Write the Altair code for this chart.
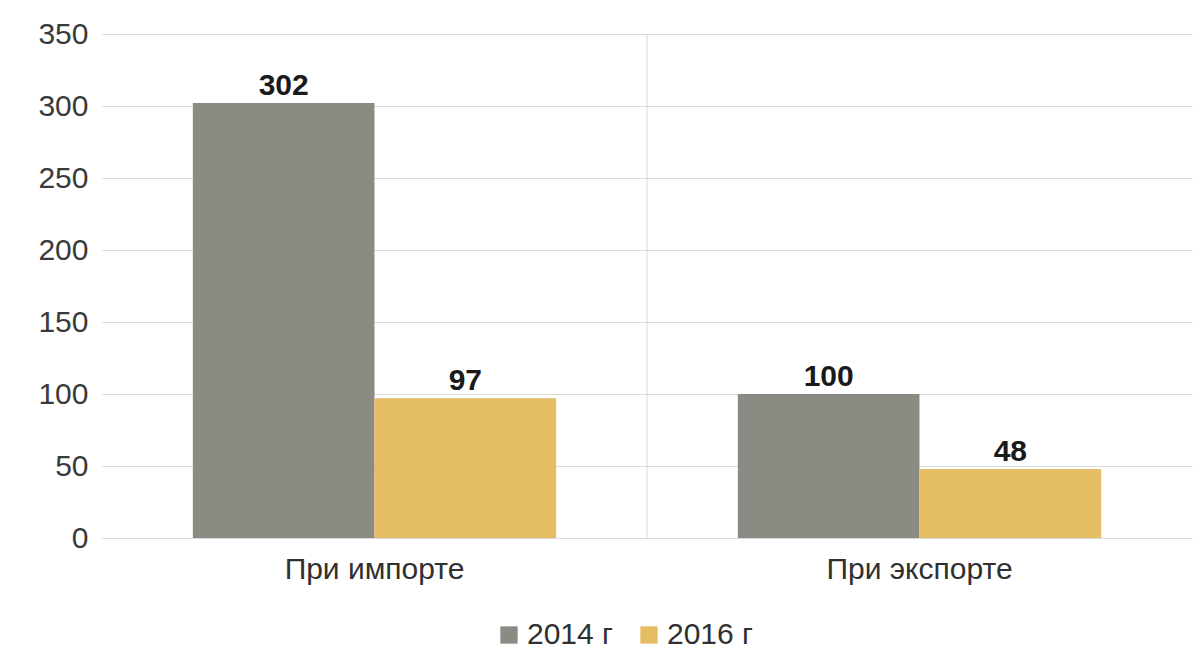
import altair as alt
import pandas as pd

categories = ["При импорте", "При экспорте"]
years = ["2014 г", "2016 г"]
values_2014 = [302, 100]
values_2016 = [97, 48]
colors = ["#8b8b84", "#e5bd65"]

rows = []
for i, c in enumerate(categories):
    rows.append({"cat": c, "year": years[0], "value": values_2014[i]})
    rows.append({"cat": c, "year": years[1], "value": values_2016[i]})
df = pd.DataFrame(rows)
sep = pd.DataFrame({"cat": [categories[1]]})

FONT = "Liberation Sans"

xenc = alt.X("cat:N", sort=categories, title=None,
             scale=alt.Scale(paddingInner=0, paddingOuter=0),
             axis=alt.Axis(labelAngle=0, labelFontSize=30, labelColor="#303030",
                           labelFont=FONT, ticks=False, domainColor="#d9d9d9",
                           labelPadding=16, grid=False, bandPosition=0.5,
                           labelLimit=500))
xoff = alt.XOffset("year:N", sort=years, scale=alt.Scale(paddingInner=0, paddingOuter=0.5))

bars = alt.Chart(df).mark_bar().encode(
    x=xenc,
    xOffset=xoff,
    y=alt.Y("value:Q", title=None,
            scale=alt.Scale(domain=[0, 350], nice=False),
            axis=alt.Axis(values=[0, 50, 100, 150, 200, 250, 300, 350], labelFontSize=30,
                          labelColor="#3a3a3a", labelFont=FONT, ticks=False, domain=False,
                          gridColor="#d9d9d9", labelPadding=14)),
    color=alt.Color("year:N", sort=years, scale=alt.Scale(domain=years, range=colors),
                    legend=alt.Legend(title=None, orient="none", direction="horizontal",
                                      legendX=392, legendY=586, symbolType="square",
                                      symbolSize=300, symbolStrokeWidth=0, labelFontSize=30,
                                      labelFont=FONT, labelColor="#303030", labelOffset=3,
                                      columnPadding=20, padding=0, labelLimit=300)),
)

labels = alt.Chart(df).mark_text(fontSize=30, fontWeight="bold", font=FONT, color="#1a1a1a",
                                 baseline="alphabetic", dy=-8).encode(
    x=alt.X("cat:N", sort=categories),
    xOffset=xoff,
    y="value:Q",
    text="value:Q",
)

rule = alt.Chart(sep).mark_rule(color="#d9d9d9", strokeWidth=1).encode(
    x=alt.X("cat:N", sort=categories, bandPosition=0),
    y=alt.datum(0),
    y2=alt.datum(350),
)

chart = alt.layer(bars, labels, rule).properties(
    width=1090, height=504,
    autosize=alt.AutoSizeParams(type="none"),
    padding={"left": 94, "top": 26, "right": 2, "bottom": 120},
    background="white",
).configure_view(stroke=None)

chart.save("out.html", embed_options={"renderer": "svg", "actions": False})
